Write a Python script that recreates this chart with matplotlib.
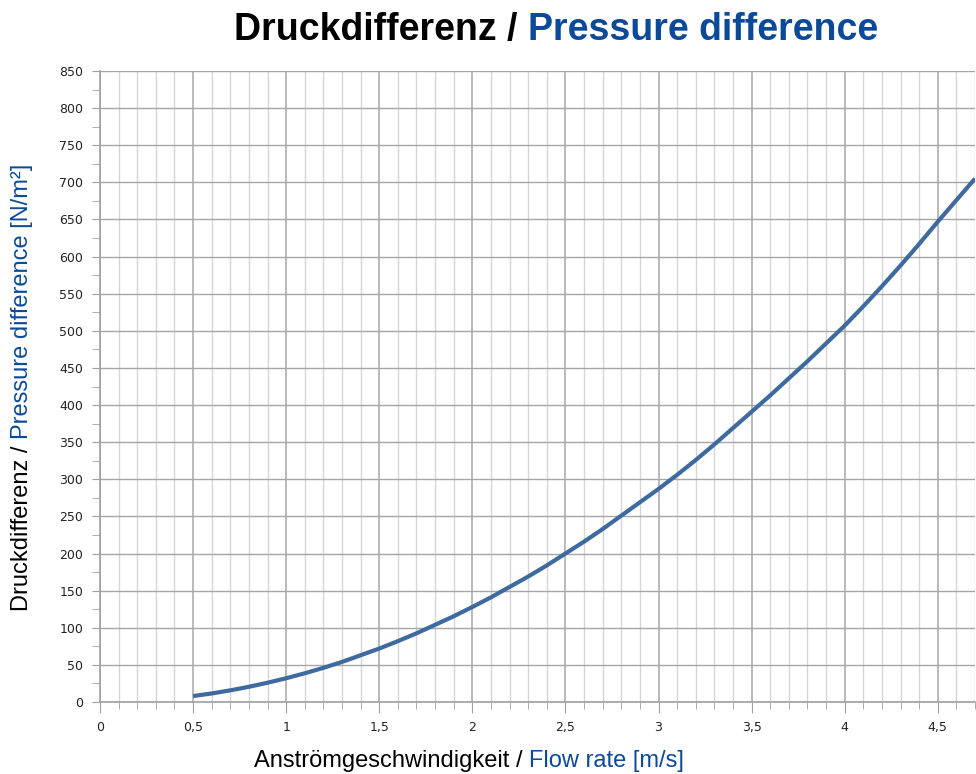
import matplotlib
matplotlib.use("Agg")
import matplotlib.pyplot as plt
from matplotlib.ticker import MultipleLocator, FuncFormatter

# Data
flow_rate = [0.5, 0.6, 0.7, 0.8, 0.9, 1.0, 1.1, 1.2, 1.3, 1.4, 1.5, 1.6, 1.7, 1.8, 1.9,
             2.0, 2.1, 2.2, 2.3, 2.4, 2.5, 2.6, 2.7, 2.8, 2.9, 3.0, 3.1, 3.2, 3.3, 3.4,
             3.5, 3.6, 3.7, 3.8, 3.9, 4.0, 4.1, 4.2, 4.3, 4.4, 4.5, 4.6, 4.7]
pressure = [8, 11.5, 15.7, 20.5, 26, 32, 38.7, 46, 54, 63, 72, 82, 92.5, 104, 115.5,
            128, 141, 155, 169, 184, 200, 216, 233, 251, 269, 287, 306, 326, 347, 369,
            391, 413, 436, 459, 483, 507, 533, 560, 588, 617, 647, 676, 705]

title_de = "Druckdifferenz / "
title_en = "Pressure difference"
xlabel_de = "Anströmgeschwindigkeit / "
xlabel_en = "Flow rate [m/s]"
ylabel_de = "Druckdifferenz / "
ylabel_en = "Pressure difference [N/m²]"

BLUE = "#0b4a99"
LINE = "#3e6aa0"

W, H = 976, 774
fig = plt.figure(figsize=(W / 100, H / 100), dpi=100)
ax = fig.add_axes([100 / W, 72 / H, 875 / W, 631 / H])

ax.plot(flow_rate, pressure, color=LINE, lw=3, solid_capstyle="butt", zorder=3)

ax.set_xlim(0, 4.7)
ax.set_ylim(0, 850)
ax.xaxis.set_major_locator(MultipleLocator(0.5))
ax.xaxis.set_minor_locator(MultipleLocator(0.1))
ax.yaxis.set_major_locator(MultipleLocator(50))
ax.yaxis.set_minor_locator(MultipleLocator(25))

def fmt(v, pos):
    return f"{v:g}".replace(".", ",")
ax.xaxis.set_major_formatter(FuncFormatter(fmt))
ax.yaxis.set_major_formatter(FuncFormatter(fmt))

ax.grid(True, which="major", axis="y", color="#a6a6a6", lw=1.0)
ax.grid(True, which="major", axis="x", color="#b4b4b4", lw=1.3)
ax.grid(True, which="minor", axis="x", color="#d6d6d6", lw=1.0)
ax.set_axisbelow(True)

for s in ["top", "right"]:
    ax.spines[s].set_visible(False)
for s in ["left", "bottom"]:
    ax.spines[s].set_color("#a0a0a0")
    ax.spines[s].set_linewidth(1.2)

ax.tick_params(axis="both", which="both", color="#a0a0a0", labelsize=9, labelcolor="#222222")
ax.tick_params(axis="y", which="both", length=6, pad=6)
ax.tick_params(axis="x", which="major", length=8, pad=6)
ax.tick_params(axis="x", which="minor", length=5)

# multi-colour labels
fig.canvas.draw()
r = fig.canvas.get_renderer()

def hpair(t1, t2, cx_px, cy_px, size, weight):
    cy = 1 - cy_px / H
    a = fig.text(0, cy, t1, fontsize=size, fontweight=weight, family="Liberation Sans",
                 color="black", va="center", ha="left")
    b = fig.text(0, cy, t2, fontsize=size, fontweight=weight, family="Liberation Sans",
                 color=BLUE, va="center", ha="left")
    wa = a.get_window_extent(r).width
    wb = b.get_window_extent(r).width
    x0 = cx_px - (wa + wb) / 2
    a.set_x(x0 / W)
    b.set_x((x0 + wa) / W)

def vpair(t1, t2, cx_px, cy_px, size):
    cx = cx_px / W
    a = fig.text(cx, 0, t1, fontsize=size, family="Liberation Sans", color="black",
                 rotation=90, va="bottom", ha="center")
    b = fig.text(cx, 0, t2, fontsize=size, family="Liberation Sans", color=BLUE,
                 rotation=90, va="bottom", ha="center")
    ha_ = a.get_window_extent(r).height
    hb_ = b.get_window_extent(r).height
    y0 = (H - cy_px) - (ha_ + hb_) / 2
    a.set_y(y0 / H)
    b.set_y((y0 + ha_) / H)

hpair(title_de, title_en, 556, 30, 27, "bold")
hpair(xlabel_de, xlabel_en, 469, 761, 17, "normal")
vpair(ylabel_de, ylabel_en, 22, 387, 17)

fig.savefig("out.png", dpi=100)
